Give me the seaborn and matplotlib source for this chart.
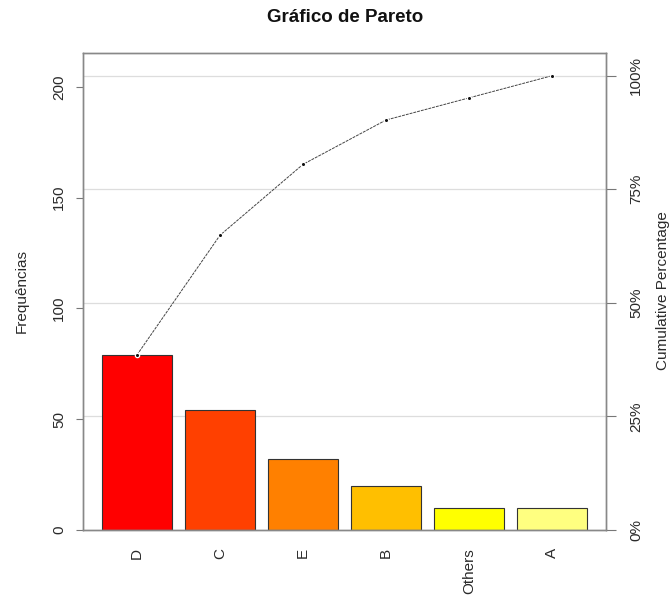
import numpy as np
import pandas as pd
import matplotlib
matplotlib.use("Agg")
import matplotlib.pyplot as plt
import seaborn as sns

categories = ["D", "C", "E", "B", "Others", "A"]
frequencies = [79, 54, 32, 20, 10, 10]
bar_colors = ["#FF0000", "#FF4000", "#FF8000", "#FFBF00", "#FFFF00", "#FFFF80"]
left_ticks = [0, 50, 100, 150, 200]
pct_ticks = [0, 25, 50, 75, 100]
pct_labels = ["0%", "25%", "50%", "75%", "100%"]

sns.set_theme(style="white")
plt.rcParams["font.family"] = ["Liberation Sans", "DejaVu Sans"]

W, H = 671, 595
FS = 11
total = sum(frequencies)
cum = np.cumsum(frequencies)
df = pd.DataFrame({"cat": categories, "freq": frequencies})

fig = plt.figure(figsize=(W / 100, H / 100), dpi=100)
ax = fig.add_axes([83 / W, 1 - 530 / H, (606 - 83) / W, (530 - 53) / H])

sns.barplot(data=df, x="cat", y="freq", hue="cat", palette=bar_colors,
            saturation=1, dodge=False, legend=False, width=1 / 1.2,
            edgecolor="#333333", linewidth=0.8, ax=ax, zorder=2)
ax.set_xlim(-0.65, 5.65)
ax.set_ylim(0, total * 1.05)

# gridlines at cumulative-percent levels
for p in pct_ticks[1:]:
    ax.axhline(total * p / 100, color="#dddddd", lw=0.9, zorder=0)

x = np.arange(len(categories))
ax.plot(x, cum, color="#444444", lw=0.7, ls=(0, (3, 1)), zorder=3)
ax.plot(x, cum, ls="none", marker="o", ms=2.5, color="#111111",
        mec="white", mew=1.5, zorder=4)
ax.plot(x, cum, ls="none", marker="o", ms=2.2, color="#111111", mew=0, zorder=5)

ax.set_yticks(left_ticks)
ax.set_yticklabels([str(t) for t in left_ticks], rotation=90, va="center",
                   fontsize=FS, color="#2a2a2a")
ax.set_xticks(x)
ax.set_xticklabels(categories, rotation=90, fontsize=FS, color="#2a2a2a")
ax.tick_params(axis="x", length=0, pad=13)
ax.tick_params(axis="y", length=5, width=0.8, color="#777777", pad=7, left=True)
ax.set_xlabel("")
ax.set_ylabel("")

for s in ax.spines.values():
    s.set_color("#888888")
    s.set_linewidth(1.0)

ax2 = ax.twinx()
ax2.set_ylim(0, 105)
ax2.set_yticks(pct_ticks)
ax2.set_yticklabels(pct_labels, rotation=90, va="center", fontsize=FS, color="#2a2a2a")
ax2.tick_params(axis="y", length=7, width=0.8, color="#777777", pad=9.5, right=True)
ax2.grid(False)
for s in ax2.spines.values():
    s.set_color("#888888")
    s.set_linewidth(1.0)

fig.text(22 / W, 1 - 291 / H, "Frequências", rotation=90, ha="center",
         va="center", fontsize=FS, color="#2a2a2a")
fig.text(663 / W, 1 - 291 / H, "Cumulative Percentage", rotation=90,
         ha="center", va="center", fontsize=FS, color="#2a2a2a")
fig.text(345 / W, 1 - 18 / H, "Gráfico de Pareto", fontsize=13.5,
         fontweight="bold", ha="center", va="center", color="#111111")

fig.savefig("out.png", dpi=100)
